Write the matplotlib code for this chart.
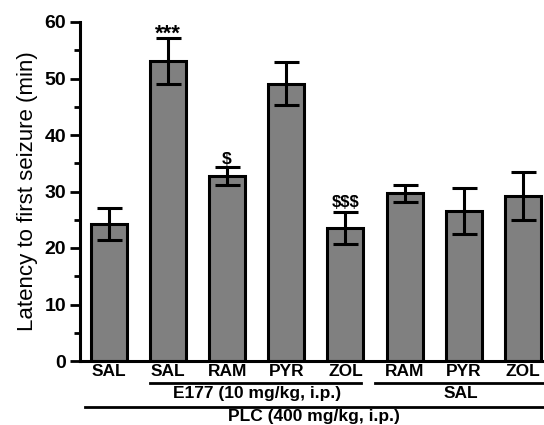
import matplotlib
matplotlib.use('Agg')
import matplotlib.pyplot as plt
import matplotlib.transforms as mtransforms
import numpy as np

plt.rcParams['font.family'] = ['Liberation Sans', 'DejaVu Sans']

labels = ['SAL', 'SAL', 'RAM', 'PYR', 'ZOL', 'RAM', 'PYR', 'ZOL']
means = [24.2, 53.1, 32.8, 49.1, 23.5, 29.7, 26.5, 29.2]
sems = [2.8, 4.1, 1.6, 3.8, 2.8, 1.5, 4.1, 4.3]
# significance marks: (text, fontsize, offset above error cap)
marks = {1: ('***', 16, -0.4), 2: (r'\$', 12.5, 0.5), 4: (r'\$\$\$', 12, 0.9)}

fig = plt.figure(figsize=(5.44, 4.25), dpi=100)
ax = fig.add_axes([80/544, 1-361/425, 464/544, 339/425])

x = np.arange(len(labels))
ax.bar(x, means, width=0.61, color='#808080', edgecolor='black', linewidth=2.2, zorder=2)
ax.errorbar(x, means, yerr=sems, fmt='none', ecolor='black', elinewidth=2.2,
            capsize=9, capthick=2.2, zorder=3)

for i, (m, fs, off) in marks.items():
    ax.text(i, means[i] + sems[i] + off, m, ha='center', va='baseline',
            fontsize=fs, fontweight='bold')

ax.set_xlim(-0.485, 7.355)
ax.set_ylim(0, 60)
ax.set_yticks(np.arange(0, 61, 10))
ax.set_yticks(np.arange(5, 60, 10), minor=True)
ax.set_xticks(x)
ax.set_xticklabels(labels, fontsize=12.5, fontweight='bold')
ax.tick_params(axis='x', length=0, pad=2)
ax.tick_params(axis='y', which='major', length=7, width=2, labelsize=14, pad=3)
ax.tick_params(axis='y', which='minor', length=4, width=2)
for t in ax.get_yticklabels():
    t.set_fontweight('bold')
for s in ['top', 'right']:
    ax.spines[s].set_visible(False)
for s in ['left', 'bottom']:
    ax.spines[s].set_linewidth(2.2)
ax.set_ylabel('Latency to first seizure (min)', fontsize=16, labelpad=5)

# group brackets under the axis
tr = mtransforms.blended_transform_factory(ax.transData, fig.transFigure)
y1 = 1 - 383.3/425
y2 = 1 - 407.3/425
ax.plot([0.7, 4.27], [y1, y1], color='black', lw=2, transform=tr, clip_on=False)
ax.plot([4.5, 7.4], [y1, y1], color='black', lw=2, transform=tr, clip_on=False)
ax.plot([-0.4, 7.4], [y2, y2], color='black', lw=2, transform=tr, clip_on=False)
ax.text(2.5, y1 - 0.0064, 'E177 (10 mg/kg, i.p.)', ha='center', va='top',
        fontsize=12.5, fontweight='bold', transform=tr)
ax.text(5.95, y1 - 0.0064, 'SAL', ha='center', va='top',
        fontsize=12.5, fontweight='bold', transform=tr)
ax.text(3.46, y2 - 0.0033, 'PLC (400 mg/kg, i.p.)', ha='center', va='top',
        fontsize=12.5, fontweight='bold', transform=tr)

fig.savefig('out.png', dpi=100)
